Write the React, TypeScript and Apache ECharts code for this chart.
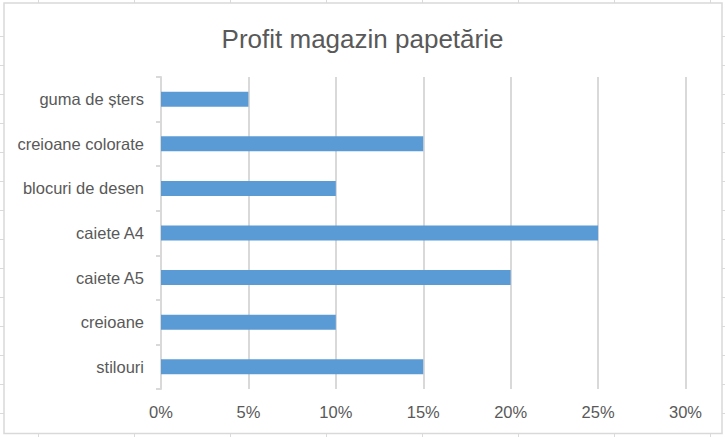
import React, { useEffect, useRef } from "react";
import * as echarts from "echarts";

const TITLE = "Profit magazin papetărie";
// bottom -> top (ECharts category order)
const categories = [
  "stilouri",
  "creioane",
  "caiete A5",
  "caiete A4",
  "blocuri de desen",
  "creioane colorate",
  "guma de șters",
];
const profitPercent = [15, 10, 20, 25, 10, 15, 5];
const xTicks = { min: 0, max: 30, interval: 5 };

const FONT = "Liberation Sans";
const TEXT_COLOR = "#595959";
const GRID_COLOR = "#d9d9d9";
const BAR_COLOR = "#5b9bd5";

export default function App() {
  const ref = useRef<HTMLDivElement>(null);

  useEffect(() => {
    document.body.style.margin = "0";
    const chart = echarts.init(ref.current!, undefined, { renderer: "svg" });

    const decor: any[] = [];
    for (let x = 38; x < 725; x += 96) {
      decor.push({
        type: "line",
        silent: true,
        z: -3,
        shape: { x1: x + 0.5, y1: 0, x2: x + 0.5, y2: 437 },
        style: { stroke: "#dadada", lineWidth: 1 },
      });
    }
    for (let y = 36; y < 437; y += 29) {
      decor.push({
        type: "line",
        silent: true,
        z: -3,
        shape: { x1: 0, y1: y + 0.5, x2: 725, y2: y + 0.5 },
        style: { stroke: "#dadada", lineWidth: 1 },
      });
    }
    decor.push({
      type: "rect",
      silent: true,
      z: -2,
      shape: { x: 4, y: 3, width: 718, height: 430.5 },
      style: { fill: "#ffffff", stroke: GRID_COLOR, lineWidth: 1.5 },
    });

    chart.setOption({
      animation: false,
      backgroundColor: "#ffffff",
      title: {
        text: TITLE,
        left: "center",
        top: 21,
        textStyle: {
          fontFamily: FONT,
          fontSize: 26,
          fontWeight: "normal",
          color: TEXT_COLOR,
        },
      },
      graphic: { elements: decor },
      grid: { left: 161, right: 39.5, top: 77, bottom: 48, containLabel: false },
      xAxis: {
        type: "value",
        min: xTicks.min,
        max: xTicks.max,
        interval: xTicks.interval,
        axisLine: { show: false },
        axisTick: { show: false },
        axisLabel: {
          formatter: "{value}%",
          fontFamily: FONT,
          fontSize: 16.5,
          color: TEXT_COLOR,
          margin: 14,
        },
        splitLine: { show: true, lineStyle: { color: GRID_COLOR, width: 2 } },
      },
      yAxis: {
        type: "category",
        data: categories,
        axisLine: { show: true, lineStyle: { color: GRID_COLOR, width: 2 } },
        axisTick: { show: true, length: 5, lineStyle: { color: GRID_COLOR, width: 2 } },
        axisLabel: {
          fontFamily: FONT,
          fontSize: 16.5,
          color: TEXT_COLOR,
          margin: 17,
        },
        splitLine: { show: false },
      },
      series: [
        {
          type: "bar",
          data: profitPercent,
          barWidth: 15,
          itemStyle: { color: BAR_COLOR },
        },
      ],
    });

    return () => chart.dispose();
  }, []);

  return (
    <div
      ref={ref}
      style={{ position: "absolute", left: 0, top: 0, width: 725, height: 437 }}
    />
  );
}
